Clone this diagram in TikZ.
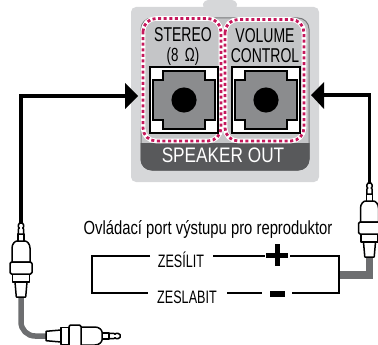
\documentclass[tikz,border=0pt]{standalone}
\usepackage{fontspec}
\setmainfont{Liberation Sans}
\newfontfamily\condfont[FakeStretch=0.78]{Liberation Sans}
\newfontfamily\narrowfont[FakeStretch=0.7]{Liberation Sans}
\newfontfamily\bandfont[FakeStretch=0.82]{Liberation Sans}
\definecolor{panelc}{HTML}{D6D7D9}
\definecolor{innerc}{HTML}{C4C5C7}
\definecolor{edgec}{HTML}{77787A}
\definecolor{bandc}{HTML}{58595B}
\definecolor{crossc}{HTML}{8B8C8E}
\definecolor{redc}{HTML}{C5175B}
\definecolor{cablec}{HTML}{6D6E70}
\tikzset{
  x=1pt,y=-1pt,
  halo/.style={draw=white,line width=4.6pt,rounded corners=13pt},
  reddots/.style={draw=redc,line width=2.8pt,dash pattern=on 3pt off 2.6pt,rounded corners=13pt},
  wire/.style={draw=black,line width=2.6pt},
  cable/.style={draw=black,line width=3.6pt},
  graycable/.style={draw=cablec,line width=5.5pt},
  graycablewide/.style={draw=cablec,line width=7.5pt},
  head/.style={fill=black,draw=none},
  plugline/.style={draw=black,line width=1.5pt,fill=white,line join=round},
  titletext/.style={font=\condfont\fontsize{19}{19}\selectfont,inner sep=0pt,text=black},
  labeltext/.style={font=\narrowfont\fontsize{18}{18}\selectfont,inner sep=0pt,text=black},
  paneltext/.style={font=\narrowfont\fontsize{20}{20}\selectfont,inner sep=0pt,align=center,text=black},
  ohmtext/.style={font=\narrowfont\fontsize{19}{19}\selectfont,inner sep=0pt,text=black},
  bandtext/.style={font=\bandfont\fontsize{21}{21}\selectfont,inner sep=0pt,text=white},
}
\newcommand{\socket}[2]{%
  \begin{scope}[shift={(#1,#2)}]
    \draw[fill=white,draw=black,line width=1.3pt] (-34,-33) rectangle (34,33);
    \draw[fill=crossc,draw=black,line width=1.5pt]
      (-21,-29) -- (21,-29) -- (21,-20) -- (31,-20) -- (31,20) -- (21,20) -- (21,29)
      -- (-21,29) -- (-21,20) -- (-31,20) -- (-31,-20) -- (-21,-20) -- cycle;
    \fill[black] (0,0) circle (12.6);
  \end{scope}}
\newcommand{\plugshape}{%
  \draw[plugline] (-3,-55) rectangle (3,-63);
  \draw[plugline] (-2.6,-63) -- (-2.6,-68) -- (-1.6,-69) -- (-2.6,-70) -- (-2.6,-72) -- (-1.5,-74) -- (1.5,-74) -- (2.6,-72) -- (2.6,-70) -- (1.6,-69) -- (2.6,-68) -- (2.6,-63) -- cycle;
  \draw[plugline] (-9,-35) -- (-9,-49) .. controls (-9,-53) and (-6,-56) .. (-4,-56) -- (4,-56) .. controls (6,-56) and (9,-53) .. (9,-49) -- (9,-35) -- cycle;
  \draw[plugline] (-6,-15) -- (-4.7,0) -- (4.7,0) -- (6,-15) -- cycle;
  \draw[plugline] (-8.5,-15) rectangle (8.5,-23);
  \draw[plugline,rounded corners=1.5pt] (-11,-23) rectangle (11,-35);
}
\begin{document}
\begin{tikzpicture}
\useasboundingbox (0,0) rectangle (378,345);
\clip (0,0) rectangle (378,345);
% panel
\fill[panelc,rounded corners=4pt] (202,8) -- (204,0) -- (236,0) -- (238,8) -- cycle;
\fill[panelc,rounded corners=5pt] (131,7) rectangle (319,182);
\draw[draw=edgec,fill=innerc,line width=1pt,rounded corners=11pt] (141,18) rectangle (309,170);
\begin{scope}
  \clip (135,143) rectangle (315,175);
  \fill[bandc,rounded corners=11pt] (140.5,100) rectangle (309.5,170.5);
\end{scope}
% dotted frames
\draw[halo] (143,18.5) rectangle (221,141);
\draw[halo] (225,19.5) rectangle (304,141);
\draw[reddots] (143,18.5) rectangle (221,141);
\draw[reddots] (225,19.5) rectangle (304,141);
% sockets
\socket{184}{100}
\socket{266}{100}
% panel labels
\node[paneltext] (stereo) at (183,35) {STEREO};
\node[ohmtext] (ohm) at (183,56.5) {(8\,\,Ω)};
\node[paneltext] (volume) at (265,36) {VOLUME};
\node[paneltext] (control) at (265,56) {CONTROL};
\node[bandtext] (out) at (223,155) {SPEAKER OUT};
\node[titletext] (title) at (208,229) {Ovládací port výstupu pro reproduktor};
\node[labeltext] (up) at (181,260) {ZESÍLIT};
\node[labeltext] (down) at (187,297) {ZESLABIT};
% named ends
\coordinate (lefttip) at (138,96);
\coordinate (righttip) at (311,95);
\coordinate (lplug) at (21,223);
\coordinate (rplug) at (369.5,183);
\coordinate (tl) at (92,256);
\coordinate (bl) at (92,293);
\coordinate (tr) at (339,256);
\coordinate (br) at (339,293);
\coordinate (gr) at (369.5,275);
% black cables
\draw[cable] (125,96) -- (21,96) -- (lplug);
\fill[head] (lefttip) -- (125,83) -- (125,109) -- cycle;
\draw[cable] (324,95) -- (369.5,95) -- (rplug);
\fill[head] (righttip) -- (324,82) -- (324,109) -- cycle;
% gray cables
\draw[graycable,rounded corners=14pt] (21,296) -- (21,336) -- (48,336);
\draw[graycablewide] (339,275) -- (gr) -- (369.5,255);
% plugs
\begin{scope}[shift={(21,297)}]\plugshape\end{scope}
\begin{scope}[shift={(46,336)},rotate=-90]\plugshape\end{scope}
\begin{scope}[shift={(369.5,257)}]\plugshape\end{scope}
% control loop
\draw[wire] (150,256) -- (tl) -- (bl) -- (148,293);
\draw[wire] (213,256) -- (265,256);
\draw[wire] (290,256) -- (tr) -- (br) -- (292,293);
\draw[wire] (227,293) -- (262,293);
% plus and minus
\fill[black] (266,252.5) rectangle (288,257.5);
\fill[black] (274.5,244) rectangle (279.5,266);
\fill[black] (270,291) rectangle (285,296.5);
\end{tikzpicture}
\end{document}
